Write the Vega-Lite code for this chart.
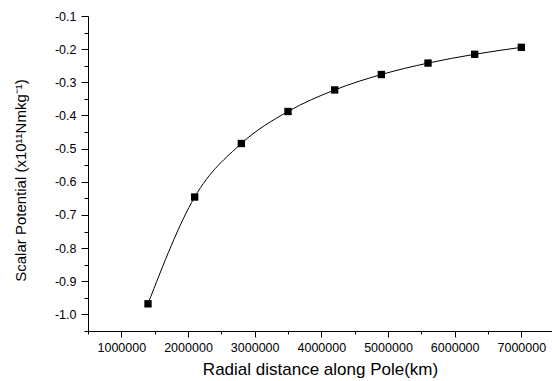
{
  "$schema": "https://vega.github.io/schema/vega-lite/v6.json",
  "autosize": {"type": "none"},
  "padding": {"left": 88, "top": 16, "right": 0, "bottom": 50},
  "width": 464,
  "height": 315,
  "background": "white",
  "config": {
    "view": {"stroke": null},
    "font": "Liberation Sans",
    "axis": {
      "domainColor": "black",
      "tickColor": "black",
      "labelColor": "black",
      "titleColor": "black",
      "grid": false,
      "labelFont": "Liberation Sans",
      "titleFont": "Liberation Sans",
      "labelFontSize": 12.5,
      "titleFontSize": 17,
      "titleFontWeight": "normal",
      "domainWidth": 1,
      "tickWidth": 1
    }
  },
  "data": {
    "values": [
      {"r": 1400000, "v": -0.968},
      {"r": 2100000, "v": -0.646},
      {"r": 2800000, "v": -0.4845},
      {"r": 3500000, "v": -0.388},
      {"r": 4200000, "v": -0.323},
      {"r": 4900000, "v": -0.2765},
      {"r": 5600000, "v": -0.242},
      {"r": 6300000, "v": -0.2155},
      {"r": 7000000, "v": -0.1945}
    ]
  },
  "encoding": {
    "x": {
      "field": "r",
      "type": "quantitative",
      "scale": {"domain": [500000, 7460000], "nice": false, "zero": false},
      "axis": {
        "title": "Radial distance along Pole(km)",
        "values": [500000, 1000000, 1500000, 2000000, 2500000, 3000000, 3500000, 4000000, 4500000, 5000000, 5500000, 6000000, 6500000, 7000000],
        "labelExpr": "datum.value % 1000000 === 0 ? format(datum.value, 'd') : ''",
        "tickSize": {"condition": {"test": "datum.value % 1000000 === 0", "value": 6}, "value": 3},
        "labelPadding": 4,
        "titlePadding": 8,
        "labelFlush": false,
        "labelOverlap": false
      }
    },
    "y": {
      "field": "v",
      "type": "quantitative",
      "scale": {"domain": [-1.05, -0.1], "nice": false, "zero": false},
      "axis": {
        "title": "Scalar Potential (x10¹¹Nmkg⁻¹)",
        "titleFontSize": 15,
        "titleY": 164,
        "values": [-1.05, -1.0, -0.95, -0.9, -0.85, -0.8, -0.75, -0.7, -0.65, -0.6, -0.55, -0.5, -0.45, -0.4, -0.35, -0.3, -0.25, -0.2, -0.15, -0.1],
        "labelExpr": "abs(round(datum.value * 100)) % 10 === 0 ? '-' + format(abs(datum.value), '.1f') : ''",
        "tickSize": {"condition": {"test": "abs(round(datum.value * 100)) % 10 === 0", "value": 7}, "value": 4},
        "labelPadding": 5,
        "titlePadding": 26,
        "labelFlush": false,
        "labelOverlap": false
      }
    }
  },
  "layer": [
    {
      "mark": {"type": "line", "interpolate": "monotone", "color": "black", "strokeWidth": 1}
    },
    {
      "mark": {"type": "point", "shape": "square", "filled": true, "color": "black", "size": 54, "opacity": 1}
    }
  ]
}
